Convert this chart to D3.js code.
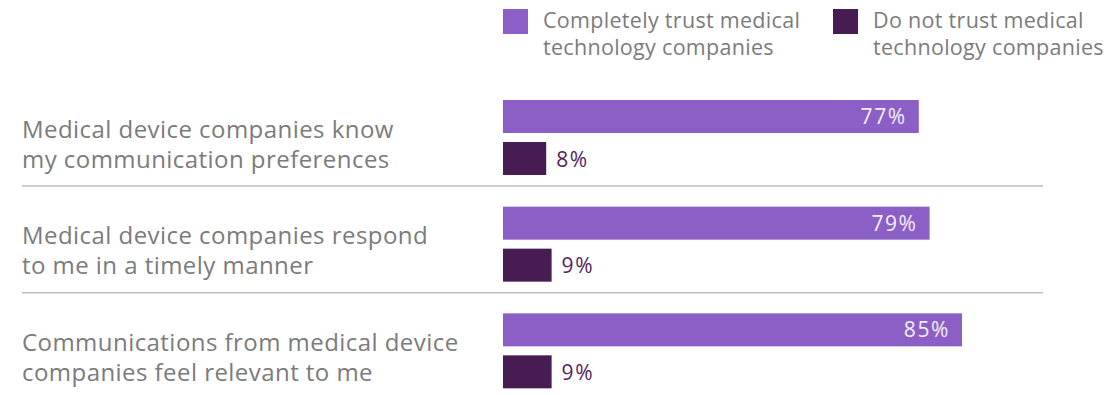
<!DOCTYPE html>
<html>
<head>
<meta charset="utf-8">
<script src="https://cdn.jsdelivr.net/npm/d3@7"></script>
<style>
  html, body { margin: 0; padding: 0; background: #fff; }
  svg { display: block; }
  text { font-family: "Open Sans", "Noto Sans", sans-serif; }
</style>
</head>
<body>
<svg id="chart" width="1113" height="395"></svg>
<script>
// Survey statements, each split over two lines
const categories = [
  ["Medical device companies know", "my communication preferences"],
  ["Medical device companies respond", "to me in a timely manner"],
  ["Communications from medical device", "companies feel relevant to me"]
];
const seriesNames = [
  ["Completely trust medical", "technology companies"],
  ["Do not trust medical", "technology companies"]
];
const trustValues = [77, 79, 85];
const distrustValues = [8, 9, 9];

const colors = ["#8b5fc5", "#471c53"];
const labelGrey = "#7b7b7d";

const svg = d3.select("#chart");

const keys = categories.map((c, i) => i);
const x = d3.scaleLinear().domain([0, 100]).range([503, 1043]);
const y = d3.scaleBand().domain(keys).range([100, 420]).paddingInner(0).paddingOuter(0);
const barH = 33, gap = 9;

// legend
const legend = svg.append("g");
const legendX = [503, 833];
seriesNames.forEach((name, i) => {
  const g = legend.append("g").attr("transform", `translate(${legendX[i]},0)`);
  g.append("rect").attr("x", 0).attr("y", 9).attr("width", 25).attr("height", 25).attr("fill", colors[i]);
  name.forEach((line, j) => g.append("text")
    .attr("x", 40).attr("y", 28 + j * 27)
    .attr("fill", labelGrey).style("font-size", "21.5px").style("letter-spacing", "0.3px")
    .text(line));
});

const groups = svg.selectAll("g.row").data(keys).join("g").attr("class", "row")
  .attr("transform", d => `translate(0,${y(d)})`);

// category labels, one text per line
groups.selectAll("text.cat").data(d => categories[d]).join("text")
  .attr("class", "cat")
  .attr("x", 22).attr("y", (d, j) => 37.5 + j * 30)
  .attr("fill", labelGrey).style("font-size", "24px").style("letter-spacing", "0.45px")
  .text(d => d);

// trust bars
groups.append("rect")
  .attr("x", x(0)).attr("y", 0)
  .attr("width", d => x(trustValues[d]) - x(0)).attr("height", barH)
  .attr("fill", colors[0]);
groups.append("text")
  .attr("x", d => x(trustValues[d]) - 12).attr("y", barH / 2 + 7.5)
  .attr("text-anchor", "end").attr("fill", "#f3eefa")
  .style("font-size", "21px").style("letter-spacing", "1.6px")
  .text(d => trustValues[d] + "%");

// distrust bars
groups.append("rect")
  .attr("x", x(0)).attr("y", barH + gap)
  .attr("width", d => x(distrustValues[d]) - x(0)).attr("height", barH)
  .attr("fill", colors[1]);
groups.append("text")
  .attr("x", d => x(distrustValues[d]) + 10).attr("y", barH + gap + barH / 2 + 8)
  .attr("fill", "#51245c")
  .style("font-size", "21px").style("letter-spacing", "1.6px")
  .text(d => distrustValues[d] + "%");

// separators between rows
groups.filter(d => d < keys.length - 1).append("line")
  .attr("x1", 22).attr("x2", x(100))
  .attr("y1", 86).attr("y2", 86)
  .attr("stroke", "#bdbdbd").attr("stroke-width", 1.5);
</script>
</body>
</html>
